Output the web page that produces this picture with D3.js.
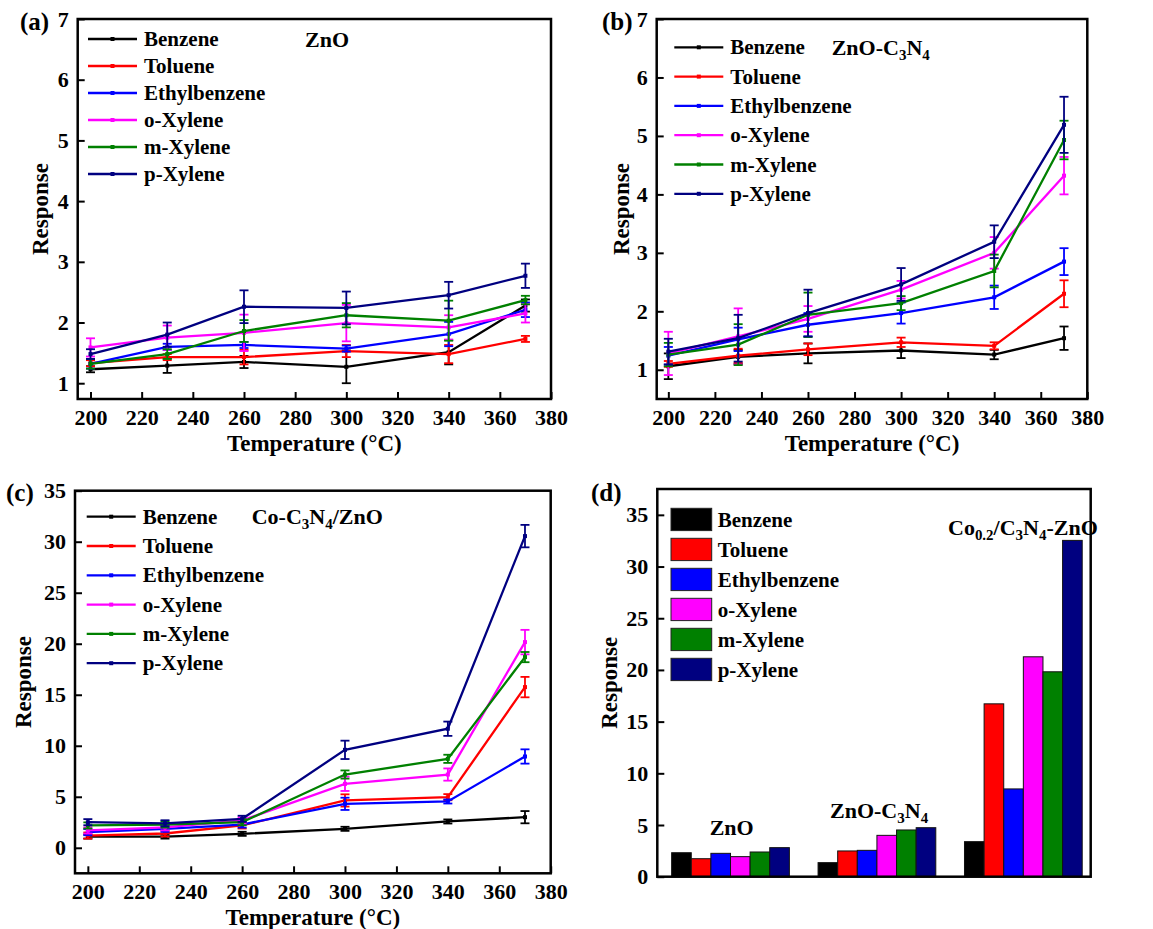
<!DOCTYPE html>
<html>
<head>
<meta charset="utf-8">
<script src="https://cdn.jsdelivr.net/npm/d3@7"></script>
<style>
  body { margin: 0; background: #fff; }
  text { font-family: "Liberation Serif", "Times New Roman", serif; font-weight: bold; fill: #000; }
</style>
</head>
<body>
<script>
// ---- data ----
var temps = [200, 230, 260, 300, 340, 370];
var gases = ["Benzene", "Toluene", "Ethylbenzene", "o-Xylene", "m-Xylene", "p-Xylene"];
var colors = ["#000000", "#ff0000", "#0000ff", "#ff00ff", "#008000", "#000080"];
var xTicks = [200, 220, 240, 260, 280, 300, 320, 340, 360, 380];
var yTicksSmall = [1, 2, 3, 4, 5, 6, 7];
var yTicksBig = [0, 5, 10, 15, 20, 25, 30, 35];

// (a) ZnO
var znoResp = [
  [1.23, 1.29, 1.35, 1.27, 1.51, 2.28],
  [1.33, 1.43, 1.43, 1.53, 1.48, 1.73],
  [1.32, 1.60, 1.63, 1.57, 1.81, 2.21],
  [1.59, 1.75, 1.83, 1.99, 1.92, 2.15],
  [1.32, 1.48, 1.86, 2.12, 2.03, 2.37],
  [1.48, 1.80, 2.26, 2.24, 2.45, 2.77]
];
var znoErr = [
  [0.05, 0.12, 0.10, 0.27, 0.20, 0.10],
  [0.05, 0.05, 0.12, 0.10, 0.15, 0.05],
  [0.08, 0.05, 0.05, 0.05, 0.20, 0.12],
  [0.15, 0.20, 0.30, 0.30, 0.20, 0.15],
  [0.08, 0.08, 0.18, 0.20, 0.33, 0.07],
  [0.08, 0.20, 0.27, 0.27, 0.22, 0.20]
];

// (b) ZnO-C3N4
var zncnResp = [
  [1.06, 1.22, 1.28, 1.33, 1.26, 1.54],
  [1.10, 1.24, 1.35, 1.47, 1.41, 2.30],
  [1.24, 1.52, 1.77, 1.97, 2.24, 2.85],
  [1.28, 1.57, 1.87, 2.37, 3.00, 4.32],
  [1.26, 1.43, 1.94, 2.14, 2.69, 4.93],
  [1.31, 1.54, 1.97, 2.46, 3.19, 5.19]
];
var zncnErr = [
  [0.22, 0.12, 0.17, 0.13, 0.08, 0.20],
  [0.05, 0.12, 0.10, 0.08, 0.06, 0.23],
  [0.15, 0.20, 0.20, 0.18, 0.20, 0.23],
  [0.37, 0.48, 0.22, 0.15, 0.27, 0.32],
  [0.20, 0.35, 0.38, 0.12, 0.28, 0.33],
  [0.22, 0.40, 0.40, 0.28, 0.28, 0.48]
];

// (c) Co-C3N4/ZnO
var cocnResp = [
  [1.10, 1.10, 1.37, 1.86, 2.58, 3.00],
  [1.20, 1.40, 2.19, 4.64, 4.96, 15.75],
  [1.53, 1.86, 2.28, 4.31, 4.54, 8.95],
  [1.70, 2.00, 2.68, 6.27, 7.18, 20.16],
  [2.19, 2.28, 2.51, 7.18, 8.72, 18.69],
  [2.51, 2.40, 2.84, 9.60, 11.67, 30.55]
];
var cocnErr = [
  [0.20, 0.20, 0.20, 0.20, 0.20, 0.60],
  [0.30, 0.30, 0.30, 0.60, 0.30, 1.00],
  [0.30, 0.30, 0.30, 0.60, 0.20, 0.70],
  [0.30, 0.30, 0.30, 0.70, 0.60, 1.20],
  [0.30, 0.30, 0.30, 0.40, 0.40, 0.50],
  [0.30, 0.30, 0.30, 0.90, 0.70, 1.10]
];

// (d) bars: one row per material, one value per gas
var barResp = [
  [2.32, 1.74, 2.26, 1.94, 2.39, 2.81],
  [1.36, 2.49, 2.55, 4.00, 4.52, 4.74],
  [3.39, 16.72, 8.49, 21.27, 19.82, 32.53]
];

var svg = d3.select("body").append("svg")
  .attr("width", 1153)
  .attr("height", 929);

// text with subscripts, parts = [[text, isSub], ...]
function richText(g, x, y, size, parts, anchor) {
  var t = g.append("text")
    .attr("x", x).attr("y", y)
    .attr("font-size", size)
    .attr("text-anchor", anchor || "start");
  var down = false;
  parts.forEach(function (p) {
    var s = t.append("tspan").text(p[0]);
    if (p[1] && !down) { s.attr("dy", 5).attr("font-size", size * 0.68); down = true; }
    else if (p[1]) { s.attr("font-size", size * 0.68); }
    else if (down) { s.attr("dy", -5); down = false; }
  });
  return t;
}

function styleAxis(g) {
  g.select(".domain").remove();
  g.selectAll(".tick line").attr("stroke", "#000").attr("stroke-width", 2);
  g.selectAll(".tick text")
    .attr("font-size", 22)
    .attr("font-family", "Liberation Serif, Times New Roman, serif")
    .attr("font-weight", "bold")
    .attr("fill", "#000");
}

function linePanel(cfg) {
  var x = d3.scaleLinear().domain([195, 380]).range([cfg.left, cfg.right]);
  var y = d3.scaleLinear().domain(cfg.yDomain).range([cfg.bottom, cfg.top]);
  var g = svg.append("g");

  g.append("g")
    .attr("transform", "translate(0," + cfg.bottom + ")")
    .call(d3.axisBottom(x).tickValues(xTicks).tickFormat(d3.format("d"))
      .tickSizeInner(-7).tickSizeOuter(0).tickPadding(10))
    .call(styleAxis);
  g.append("g")
    .attr("transform", "translate(" + cfg.left + ",0)")
    .call(d3.axisLeft(y).tickValues(cfg.yTicks).tickFormat(d3.format("d"))
      .tickSizeInner(-7).tickSizeOuter(0).tickPadding(9))
    .call(styleAxis);

  var line = d3.line()
    .x(function (d) { return x(d.t); })
    .y(function (d) { return y(d.v); });

  gases.forEach(function (name, k) {
    var pts = temps.map(function (t, i) {
      return { t: t, v: cfg.resp[k][i], e: cfg.err[k][i] };
    });
    var s = g.append("g").attr("stroke", colors[k]).attr("fill", "none");
    s.append("path").attr("d", line(pts)).attr("stroke-width", 2.3);
    var eb = s.selectAll(".eb").data(pts).enter().append("g");
    eb.append("line")
      .attr("x1", function (d) { return x(d.t); })
      .attr("x2", function (d) { return x(d.t); })
      .attr("y1", function (d) { return y(d.v - d.e); })
      .attr("y2", function (d) { return y(d.v + d.e); })
      .attr("stroke-width", 1.8);
    [-1, 1].forEach(function (sgn) {
      eb.append("line")
        .attr("x1", function (d) { return x(d.t) - 4.5; })
        .attr("x2", function (d) { return x(d.t) + 4.5; })
        .attr("y1", function (d) { return y(d.v + sgn * d.e); })
        .attr("y2", function (d) { return y(d.v + sgn * d.e); })
        .attr("stroke-width", 1.8);
    });
    s.selectAll(".mk").data(pts).enter().append("rect")
      .attr("x", function (d) { return x(d.t) - 2; })
      .attr("y", function (d) { return y(d.v) - 2; })
      .attr("width", 4).attr("height", 4)
      .attr("fill", colors[k]).attr("stroke", "none");
  });

  // frame
  g.append("rect")
    .attr("x", cfg.left).attr("y", cfg.top)
    .attr("width", cfg.right - cfg.left).attr("height", cfg.bottom - cfg.top)
    .attr("fill", "none").attr("stroke", "#000").attr("stroke-width", 2.5);

  // legend
  gases.forEach(function (name, k) {
    var ly = cfg.legY + k * cfg.legStep;
    g.append("line")
      .attr("x1", cfg.legX).attr("x2", cfg.legX + 49)
      .attr("y1", ly).attr("y2", ly)
      .attr("stroke", colors[k]).attr("stroke-width", 2.3);
    g.append("rect")
      .attr("x", cfg.legX + 22.5).attr("y", ly - 2)
      .attr("width", 4).attr("height", 4).attr("fill", colors[k]);
    g.append("text")
      .attr("x", cfg.legX + 56).attr("y", ly + 7)
      .attr("font-size", 21)
      .text(name);
  });

  // titles
  g.append("text")
    .attr("x", (cfg.left + cfg.right) / 2).attr("y", cfg.bottom + 52)
    .attr("text-anchor", "middle").attr("font-size", 23)
    .text("Temperature (\u00B0C)");
  g.append("text")
    .attr("transform", "translate(" + (cfg.left - cfg.yTitleOff) + "," + (cfg.top + cfg.bottom) / 2 + ") rotate(-90)")
    .attr("text-anchor", "middle").attr("font-size", 23)
    .text("Response");
  g.append("text")
    .attr("x", cfg.labX).attr("y", cfg.labY)
    .attr("font-size", 25)
    .text(cfg.label);
  richText(g, cfg.nameX, cfg.nameY, 22, cfg.name);
}

linePanel({
  left: 77.7, right: 551, top: 19, bottom: 399,
  yDomain: [0.74, 7], yTicks: yTicksSmall,
  resp: znoResp, err: znoErr,
  legX: 88, legY: 39, legStep: 27,
  yTitleOff: 30, label: "(a)", labX: 20, labY: 30,
  name: [["ZnO"]], nameX: 305, nameY: 47
});

linePanel({
  left: 656.7, right: 1087.3, top: 19, bottom: 399,
  yDomain: [0.5, 7], yTicks: yTicksSmall,
  resp: zncnResp, err: zncnErr,
  legX: 674.3, legY: 47.3, legStep: 29.3,
  yTitleOff: 28, label: "(b)", labX: 602, labY: 30,
  name: [["ZnO-C"], ["3", true], ["N"], ["4", true]], nameX: 831.7, nameY: 55
});

linePanel({
  left: 75, right: 550.7, top: 490.7, bottom: 873.3,
  yDomain: [-2.5, 35], yTicks: yTicksBig,
  resp: cocnResp, err: cocnErr,
  legX: 86.7, legY: 516.7, legStep: 29.3,
  yTitleOff: 44, label: "(c)", labX: 6, labY: 501,
  name: [["Co-C"], ["3", true], ["N"], ["4", true], ["/ZnO"]], nameX: 251.7, nameY: 524
});

// ---- (d) bar chart ----
(function () {
  var left = 657.3, right = 1090.7, top = 489, bottom = 876.7;
  var x = d3.scaleLinear().domain([0.5, 3.46]).range([left, right]);
  var y = d3.scaleLinear().domain([0, 37.5]).range([bottom, top]);
  var bw = 0.134;
  var g = svg.append("g");

  g.append("g")
    .attr("transform", "translate(" + left + ",0)")
    .call(d3.axisLeft(y).tickValues(yTicksBig).tickFormat(d3.format("d"))
      .tickSizeInner(-7).tickSizeOuter(0).tickPadding(9))
    .call(styleAxis);

  barResp.forEach(function (row, i) {
    g.selectAll(".b" + i).data(row).enter().append("rect")
      .attr("x", function (d, j) { return x(i + 1 + (j - 3) * bw); })
      .attr("width", function (d, j) { return x(i + 1 + (j - 2) * bw) - x(i + 1 + (j - 3) * bw); })
      .attr("y", function (d) { return y(d); })
      .attr("height", function (d) { return y(0) - y(d); })
      .attr("fill", function (d, j) { return colors[j]; })
      .attr("stroke", "#111").attr("stroke-width", 1);
  });

  g.append("rect")
    .attr("x", left).attr("y", top)
    .attr("width", right - left).attr("height", bottom - top)
    .attr("fill", "none").attr("stroke", "#000").attr("stroke-width", 2.5);

  gases.forEach(function (name, k) {
    var cy = 519.3 + k * 30;
    g.append("rect")
      .attr("x", 671).attr("y", cy - 11)
      .attr("width", 40.7).attr("height", 22.3)
      .attr("fill", colors[k]).attr("stroke", "#222").attr("stroke-width", 1);
    g.append("text")
      .attr("x", 717.7).attr("y", cy + 7.5)
      .attr("font-size", 21)
      .text(name);
  });

  richText(g, 731.7, 835, 22, [["ZnO"]], "middle");
  richText(g, 830, 818, 22, [["ZnO-C"], ["3", true], ["N"], ["4", true]]);
  richText(g, 948, 535, 22, [["Co"], ["0.2", true], ["/C"], ["3", true], ["N"], ["4", true], ["-ZnO"]]);

  g.append("text")
    .attr("transform", "translate(" + (left - 40) + "," + (top + bottom) / 2 + ") rotate(-90)")
    .attr("text-anchor", "middle").attr("font-size", 23)
    .text("Response");
  g.append("text")
    .attr("x", 591).attr("y", 501)
    .attr("font-size", 25)
    .text("(d)");
})();
</script>
</body>
</html>
